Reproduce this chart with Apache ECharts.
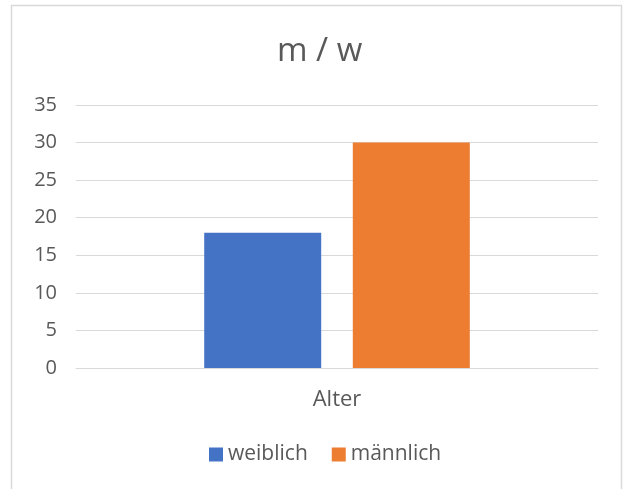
<!DOCTYPE html>
<html>
<head>
<meta charset="utf-8">
<script src="https://cdn.jsdelivr.net/npm/echarts@6/dist/echarts.min.js"></script>
<style>
html,body{margin:0;padding:0;background:#fff;}
#chart{width:627px;height:489px;}
</style>
</head>
<body>
<div id="chart"></div>
<script>
const categories = ['Alter'];
const seriesNames = ['weiblich', 'männlich'];
const weiblich = [18];
const maennlich = [30];
const colors = ['#4472C4', '#ED7D31'];

const font = '"Open Sans", "Noto Sans", sans-serif';
const chart = echarts.init(document.getElementById('chart'), null, {renderer: 'canvas'});
chart.setOption({
  animation: false,
  backgroundColor: '#fff',
  title: {
    text: 'm / w',
    left: 272,
    top: 30,
    textStyle: {color: '#595959', fontSize: 33, fontWeight: 'normal', fontFamily: font}
  },
  graphic: [{
    type: 'rect',
    shape: {x: 11.5, y: 5.5, width: 610, height: 520},
    style: {fill: 'none', stroke: '#d9d9d9', lineWidth: 1.5},
    silent: true
  }],
  legend: {
    data: seriesNames,
    top: 439,
    left: 204,
    itemWidth: 14,
    itemHeight: 14,
    itemGap: 24,
    icon: 'rect',
    textStyle: {color: '#595959', fontSize: 21, fontFamily: font}
  },
  grid: {left: 76, right: 29, top: 105, bottom: 121, containLabel: false},
  xAxis: {
    type: 'category',
    data: categories,
    axisLine: {lineStyle: {color: '#d9d9d9', width: 1}},
    axisTick: {show: false},
    axisLabel: {color: '#595959', fontSize: 22, fontFamily: font, margin: 21}
  },
  yAxis: {
    type: 'value',
    min: 0,
    max: 35,
    interval: 5,
    axisLine: {show: false},
    axisTick: {show: false},
    splitLine: {lineStyle: {color: '#d9d9d9', width: 1}},
    axisLabel: {color: '#595959', fontSize: 20, fontFamily: font, margin: 19}
  },
  series: [
    {name: seriesNames[0], type: 'bar', data: weiblich, barWidth: 117, barGap: '27%', itemStyle: {color: colors[0]}},
    {name: seriesNames[1], type: 'bar', data: maennlich, barWidth: 117, barGap: '27%', itemStyle: {color: colors[1]}}
  ]
});
</script>
</body>
</html>
